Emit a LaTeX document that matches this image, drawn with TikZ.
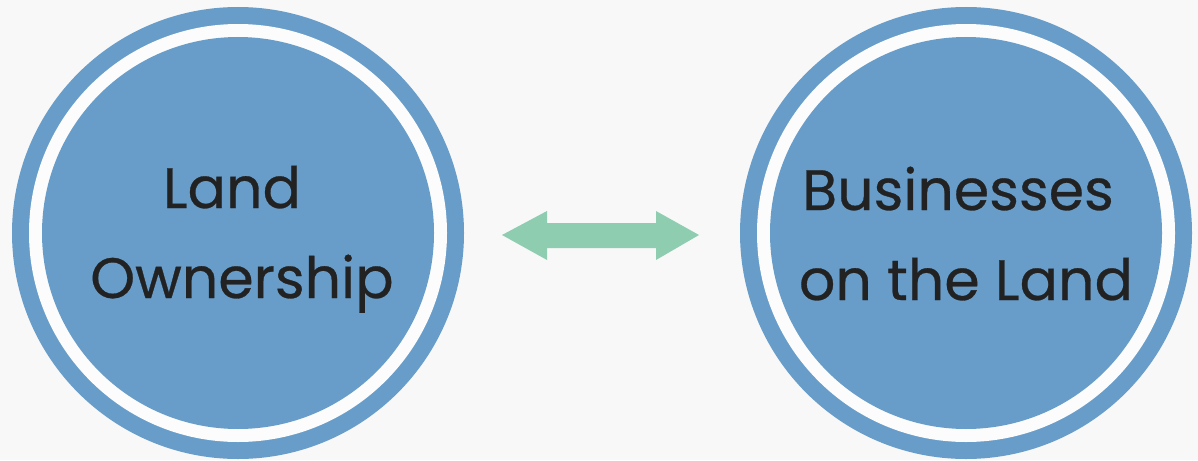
\documentclass[tikz,border=0pt]{standalone}
\usepackage{fontspec}
\newfontfamily\lblfont{Poppins}[FakeBold=0.5]
\definecolor{bg}{HTML}{F8F8F8}
\definecolor{ringblue}{HTML}{689DC9}
\definecolor{arrowgreen}{HTML}{8ECDB0}
\definecolor{txt}{HTML}{222222}
\tikzset{
  ring/.style={circle, fill=ringblue, minimum size=452pt, inner sep=0pt, draw=none},
  gap/.style={circle, fill=white!60!bg, minimum size=418pt, inner sep=0pt, draw=none},
  core/.style={circle, fill=ringblue, minimum size=392pt, inner sep=0pt, draw=none},
  label/.style={anchor=base, text=txt, font=\lblfont\fontsize{57}{57}\selectfont, inner sep=0pt},
}
\begin{document}
\begin{tikzpicture}[x=1pt,y=-1pt]
\fill[bg] (0,0) rectangle (1198,460);
\useasboundingbox (0,0) rectangle (1198,460);
% left circle
\node[ring] (lo) at (238,233) {};
\node[gap] (lg) at (238,233) {};
\node[core] (lc) at (238,233) {};
% right circle
\node[ring] (ro) at (966,233) {};
\node[gap] (rg) at (966,233) {};
\node[core] (rc) at (966,233) {};
% texts
\node[label] (t1) at (232,208) {Land};
\node[label] (t2) at (242,298) {Ownership};
\node[label] (t3) at (958,210) {Businesses};
\node[label] (t4) at (966,300) {on the Land};
% double arrow
\coordinate (al) at (502,235);
\coordinate (ar) at (699,235);
\fill[arrowgreen] (al) -- (547,211) -- (547,223) -- (656,223) -- (656,211) -- (ar)
  -- (656,260) -- (656,248) -- (547,248) -- (547,260) -- cycle;
\end{tikzpicture}
\end{document}
